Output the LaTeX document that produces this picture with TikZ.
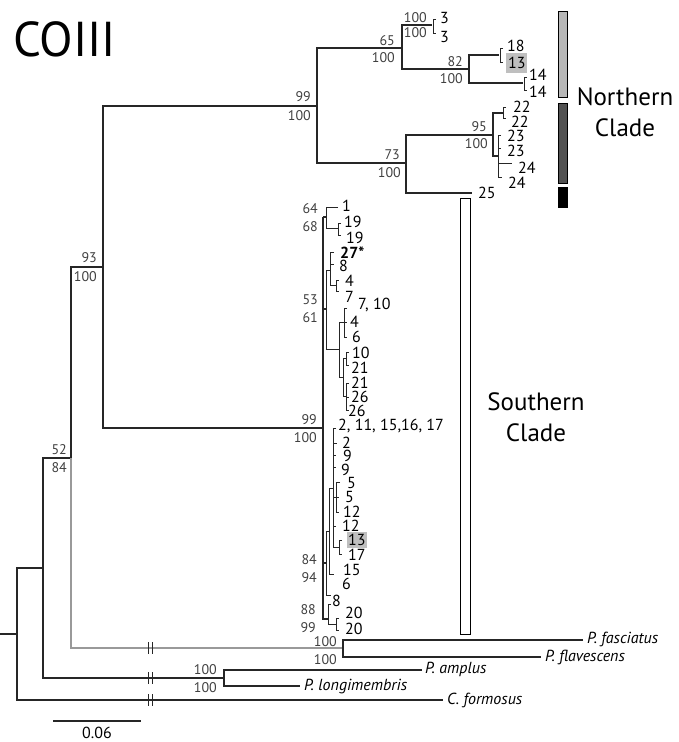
\documentclass[tikz,border=0pt]{standalone}
\usepackage{fontspec}
\setmainfont{PT Sans}
\begin{document}
\begin{tikzpicture}[x=1pt,y=-1pt,
  br/.style={line width=1.1pt, draw=black!85},
  brk/.style={line width=0.8pt, draw=black!85},
  gr/.style={line width=1.1pt, draw=black!40},
  tip/.style={anchor=west, inner sep=0pt, font=\fontsize{16}{16}\selectfont},
  bs/.style={anchor=east, inner sep=0pt, font=\fontsize{14}{14}\selectfont, text=black!75},
  sp/.style={anchor=west, inner sep=0pt, font=\fontsize{16}{16}\selectfont\itshape},
  clade/.style={align=center, inner sep=0pt, font=\fontsize{25}{31}\selectfont},
  hl/.style={fill=black!25},
  bar/.style={draw=black, line width=0.8pt}]
\useasboundingbox (0,0) rectangle (678,742);

% title
\node[anchor=west, inner sep=0pt, font=\fontsize{49}{49}\selectfont] (title) at (13,39) {COIII};

% ---------- root and outgroups ----------
\draw[br] (0,634) -- (17,634);
\draw[br] (43,568) -- (17,568) -- (17,700) -- (443,700);
\draw[br] (71,458) -- (43,458) -- (43,678) -- (224,678);
\draw[br] (422,670) -- (224,670) -- (224,686) -- (300,686);
\draw[br] (103,267) -- (71,267) -- (71,458);
\draw[gr] (71,458) -- (71,648) -- (343,648);
\draw[br] (583,640) -- (343,640) -- (343,657) -- (541,657);
\foreach \yy in {648,678,700}{
  \draw[brk] (148,\yy-6) -- (148,\yy+6);
  \draw[brk] (152,\yy-6) -- (152,\yy+6);
}
\node[sp] (pfa) at (587,639) {P. fasciatus};
\node[sp] (pfl) at (545,657) {P. flavescens};
\node[sp] (pam) at (425,669) {P. amplus};
\node[sp] (plo) at (304,687) {P. longimembris};
\node[sp] (cfo) at (447,700) {C. formosus};
\node[bs] (b1) at (337,642) {100};
\node[bs] (b2) at (337,660) {100};
\node[bs] (b3) at (217,670) {100};
\node[bs] (b4) at (217,688) {100};
\node[bs] (b5) at (67,450) {52};
\node[bs] (b6) at (67,468) {84};
\node[bs] (b7) at (97,258) {93};
\node[bs] (b8) at (97,277) {100};

% scale bar
\draw[br] (53,721) -- (141,721);
\node[inner sep=0pt, font=\fontsize{16}{16}\selectfont] (scale) at (97,733) {0.06};

% ---------- ingroup backbone ----------
\draw[br] (317,106) -- (103,106) -- (103,428) -- (323,428);

% ---------- northern clade ----------
\draw[br] (402,48) -- (317,48) -- (317,163) -- (406,163);
\draw[br] (432,25) -- (402,25) -- (402,69) -- (469,69);
\draw[brk] (436,19) -- (433,19) -- (433,33) -- (436,33);
\draw[br] (499,55) -- (469,55) -- (469,83) -- (523,83);
\draw[brk] (503,48) -- (500,48) -- (500,62) -- (503,62);
\draw[brk] (527,77) -- (524,77) -- (524,90) -- (527,90);
\draw[br] (493,135) -- (406,135) -- (406,193) -- (472,193);
\draw[br] (503,113) -- (493,113) -- (493,156) -- (498,156);
\draw[brk] (506,107) -- (503,107) -- (503,118) -- (506,118);
\draw[brk] (501,135) -- (498,135) -- (498,177) -- (502,177);
\draw[brk] (498,148) -- (501,148);
\draw[brk] (498,163) -- (512,163);

\fill[hl] (506,53) rectangle (527,73);
\node[tip] (n3a) at (440,18) {3};
\node[tip] (n3b) at (440,37) {3};
\node[tip] (n18) at (507,46) {18};
\node[tip] (n13) at (508,63) {13};
\node[tip] (n14a) at (529,75) {14};
\node[tip] (n14b) at (529,92) {14};
\node[tip] (n22a) at (513,107) {22};
\node[tip] (n22b) at (511,122) {22};
\node[tip] (n23a) at (507,136) {23};
\node[tip] (n23b) at (507,151) {23};
\node[tip] (n24a) at (518,168) {24};
\node[tip] (n24b) at (508,183) {24};
\node[tip] (n25) at (478,193) {25};

\node[bs] (c1) at (427,18) {100};
\node[bs] (c2) at (427,33) {100};
\node[bs] (c3) at (395,41) {65};
\node[bs] (c4) at (395,58) {100};
\node[bs] (c5) at (463,62) {82};
\node[bs] (c6) at (463,79) {100};
\node[bs] (c7) at (311,97) {99};
\node[bs] (c8) at (311,116) {100};
\node[bs] (c9) at (487,127) {95};
\node[bs] (c10) at (488,144) {100};
\node[bs] (c11) at (400,155) {73};
\node[bs] (c12) at (401,173) {100};

% clade bars
\draw[bar, fill=black!28] (558,11) rectangle (567,97);
\draw[bar, fill=black!68] (558,103) rectangle (567,183);
\draw[bar, fill=black] (558,187) rectangle (567,207);
\draw[bar, fill=white] (460,198) rectangle (470,634);
\node[clade] (north) at (625,112) {Northern\\Clade};
\node[clade] (south) at (536,417) {Southern\\Clade};

% ---------- southern clade ----------
\draw[br] (323,217) -- (323,619) -- (328,619);
% 64/68
\draw[br] (323,217) -- (326,217);
\draw[brk] (338,207) -- (326,207) -- (326,228) -- (338,228);
\draw[brk] (341,223) -- (338,223) -- (338,235) -- (341,235);
% 53/61
\draw[br] (323,309) -- (326,309);
\draw[brk] (330,270) -- (326,270) -- (326,349) -- (339,349);
\draw[brk] (334,252) -- (330,252) -- (330,285) -- (336,285);
\draw[brk] (330,264) -- (334,264);
\draw[brk] (339,280) -- (336,280) -- (336,291) -- (339,291);
\draw[brk] (343,322) -- (339,322) -- (339,377) -- (343,377);
\draw[brk] (347,308) -- (344,308) -- (344,337) -- (347,337);
\draw[brk] (343,322) -- (347,322);
\draw[brk] (346,358) -- (343,358) -- (343,396) -- (346,396);
\draw[brk] (349,352) -- (346,352) -- (346,365) -- (349,365);
\draw[brk] (349,383) -- (346,383) -- (346,410) -- (349,410);
\draw[brk] (346,397) -- (349,397);
% 84/94
\draw[br] (323,563) -- (326,563);
\draw[brk] (329,531) -- (326,531) -- (326,595) -- (331,595);
\draw[brk] (333,488) -- (329,488) -- (329,574) -- (334,574);
\draw[brk] (336,428) -- (333,428) -- (333,547) -- (339,547);
\draw[brk] (333,443) -- (337,443);
\draw[brk] (333,455) -- (336,455);
\draw[brk] (333,467) -- (336,467);
\draw[brk] (333,526) -- (336,526);
\draw[brk] (333,497) -- (336,497);
\draw[brk] (340,482) -- (336,482) -- (336,512) -- (339,512);
\draw[brk] (336,497) -- (339,497);
\draw[brk] (342,540) -- (339,540) -- (339,554) -- (342,554);
% 88/99
\draw[brk] (331,604) -- (328,604) -- (328,624) -- (336,624);
\draw[brk] (339,618) -- (336,618) -- (336,630) -- (339,630);

\fill[hl] (347,532) rectangle (367,548);
\node[tip] (s1) at (342,206) {1};
\node[tip] (s19a) at (344,222) {19};
\node[tip] (s19b) at (346,238) {19};
\node[tip] (s27) at (340,253) {\bfseries 27*};
\node[tip] (s8a) at (339,266) {8};
\node[tip] (s4a) at (345,281) {4};
\node[tip] (s7) at (345,297) {7};
\node[tip] (s710) at (358,305) {7, 10};
\node[tip] (s4b) at (350,322) {4};
\node[tip] (s6a) at (352,337) {6};
\node[tip] (s10) at (352,353) {10};
\node[tip] (s21a) at (351,368) {21};
\node[tip] (s21b) at (351,383) {21};
\node[tip] (s26a) at (351,397) {26};
\node[tip] (s26b) at (348,411) {26};
\node[tip] (s2m) at (338,426) {2, 11, 15,16, 17};
\node[tip] (s2) at (342,443) {2};
\node[tip] (s9a) at (343,456) {9};
\node[tip] (s9b) at (341,470) {9};
\node[tip] (s5a) at (347,483) {5};
\node[tip] (s5b) at (345,497) {5};
\node[tip] (s12a) at (343,512) {12};
\node[tip] (s12b) at (342,526) {12};
\node[tip] (s13) at (348,540) {13};
\node[tip] (s17) at (348,555) {17};
\node[tip] (s15) at (343,570) {15};
\node[tip] (s6b) at (342,584) {6};
\node[tip] (s8b) at (332,601) {8};
\node[tip] (s20a) at (345,613) {20};
\node[tip] (s20b) at (345,629) {20};

\node[bs] (d1) at (318,209) {64};
\node[bs] (d2) at (318,227) {68};
\node[bs] (d3) at (318,300) {53};
\node[bs] (d4) at (318,318) {61};
\node[bs] (d5) at (317,420) {99};
\node[bs] (d6) at (317,438) {100};
\node[bs] (d7) at (317,560) {84};
\node[bs] (d8) at (317,578) {94};
\node[bs] (d9) at (316,610) {88};
\node[bs] (d10) at (316,628) {99};
\end{tikzpicture}
\end{document}
